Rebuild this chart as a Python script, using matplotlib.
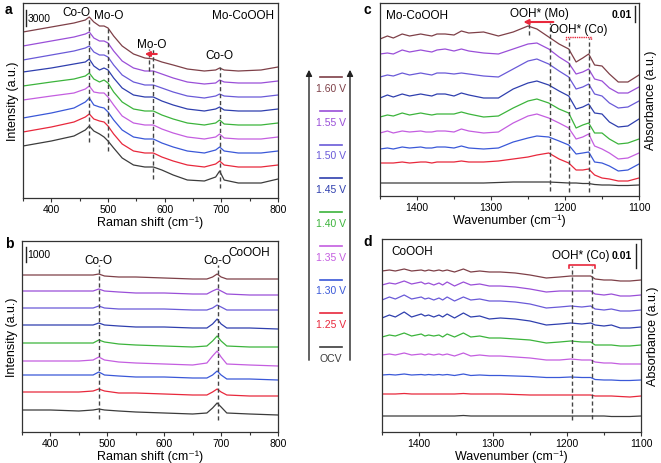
import matplotlib
matplotlib.use("Agg")
import matplotlib.pyplot as plt

plt.rcParams["font.family"] = ["Liberation Sans", "DejaVu Sans"]

# potentials, bottom to top
labels = ["OCV", "1.25 V", "1.30 V", "1.35 V", "1.40 V", "1.45 V", "1.50 V", "1.55 V", "1.60 V"]
colors = ["#3c3c3c", "#e8283c", "#3a58d8", "#c45ee0", "#3cb43c",
          "#2f3fae", "#6a5ad8", "#9a4fd8", "#7e4048"]

# panel a: Raman, Mo-CoOOH (stacked, arbitrary units)
a_x = [350, 400, 440, 460, 467, 475, 485, 493, 500, 510, 525, 545,
       565, 580, 595, 615, 640, 670, 690, 697, 705, 730, 770, 800]
a_y = [
    [52, 57, 62, 68, 72, 67, 64, 61, 57, 50, 40, 33, 31, 31, 28, 23, 18, 17, 21, 27, 18, 15, 15, 19],
    [66, 71, 76, 81, 84, 79, 77, 76, 72, 64, 54, 47, 45, 45, 41, 37, 33, 31, 34, 37, 33, 31, 31, 33],
    [80, 85, 90, 96, 100, 93, 91, 90, 86, 78, 68, 61, 59, 59, 55, 51, 47, 45, 48, 51, 47, 45, 45, 47],
    [98, 102, 105, 109, 112, 106, 105, 105, 101, 93, 82, 75, 73, 73, 69, 65, 61, 59, 61, 64, 60, 59, 59, 61],
    [112, 116, 119, 122, 125, 119, 116, 118, 115, 106, 96, 89, 87, 87, 83, 79, 75, 73, 75, 78, 74, 73, 73, 75],
    [126, 130, 134, 136, 139, 132, 128, 130, 128, 120, 110, 103, 101, 101, 97, 93, 89, 87, 89, 91, 88, 87, 87, 89],
    [138, 143, 147, 150, 152, 146, 143, 143, 141, 133, 123, 116, 113, 113, 110, 106, 102, 100, 102, 104, 102, 101, 101, 103],
    [152, 157, 161, 164, 166, 160, 157, 157, 155, 147, 137, 130, 127, 127, 124, 120, 116, 114, 115, 118, 116, 115, 115, 117],
    [166, 171, 175, 178, 181, 176, 172, 172, 170, 162, 152, 144, 140, 139, 136, 133, 129, 127, 128, 130, 128, 127, 128, 131],
]

# panel b: Raman, CoOOH
b_x = [350, 400, 450, 475, 485, 495, 520, 550, 600, 650, 675, 685, 693, 700, 710, 750, 800]
b_y = [
    [22, 22, 21, 22, 23, 22, 21, 20, 19, 18, 19, 24, 29, 25, 19, 18, 17],
    [40, 40, 40, 41, 43, 41, 39, 39, 38, 37, 37, 40, 43, 40, 37, 36, 36],
    [57, 57, 57, 57, 60, 57, 56, 55, 55, 54, 54, 57, 61, 57, 53, 53, 52],
    [71, 71, 71, 72, 75, 72, 70, 69, 68, 67, 69, 76, 81, 75, 68, 67, 66],
    [89, 89, 89, 89, 92, 90, 88, 87, 86, 85, 86, 91, 96, 91, 86, 85, 85],
    [107, 107, 107, 107, 109, 107, 106, 105, 105, 104, 104, 108, 113, 108, 104, 104, 103],
    [124, 124, 124, 124, 126, 124, 123, 123, 123, 122, 122, 124, 127, 125, 122, 122, 122],
    [141, 141, 141, 141, 143, 141, 140, 139, 139, 138, 138, 141, 143, 141, 138, 137, 137],
    [157, 157, 157, 157, 158, 156, 155, 155, 154, 153, 153, 155, 158, 155, 153, 153, 153],
]

# panel c: ATR-IR, Mo-CoOOH
c_x = [1450, 1440, 1432, 1420, 1410, 1395, 1388, 1380, 1373, 1362, 1350, 1340, 1330, 1310, 1290,
       1270, 1250, 1238, 1222, 1208, 1195, 1185, 1176, 1168, 1160, 1150, 1140, 1128, 1115, 1100]
c_y = [
    [13, 13, 13, 13, 13, 13, 13, 13, 13, 13, 13, 13, 13, 13, 13.5,
     14, 14, 14, 14, 13.5, 13, 13, 12.5, 12.5, 11.5, 11, 11, 10.5, 10.5, 11],
    [33, 33, 33, 34, 33, 34, 34, 33, 34, 34, 34, 35, 34, 34, 35,
     37, 39, 41, 43, 37, 33, 26, 26, 27, 21, 18, 17, 15, 15, 18],
    [47, 48, 47, 49, 48, 49, 48, 48, 49, 49, 48, 50, 48, 47, 48,
     54, 58, 60, 59, 55, 51, 42, 43, 44, 34, 33, 30, 25, 26, 32],
    [63, 65, 63, 65, 64, 65, 64, 64, 65, 65, 64, 67, 65, 63, 64,
     73, 80, 82, 78, 73, 68, 57, 59, 62, 50, 47, 43, 37, 38, 43],
    [79, 81, 80, 83, 81, 83, 82, 81, 82, 82, 82, 84, 82, 79, 80,
     88, 95, 97, 93, 87, 83, 68, 71, 73, 63, 63, 57, 52, 53, 57],
    [98, 101, 99, 102, 100, 102, 101, 100, 102, 102, 100, 103, 101, 98, 98,
     107, 113, 115, 111, 105, 100, 87, 89, 92, 83, 82, 74, 69, 70, 77],
    [119, 121, 120, 123, 121, 123, 122, 121, 123, 123, 122, 123, 122, 120, 119,
     127, 135, 137, 132, 125, 119, 107, 109, 112, 102, 100, 93, 88, 89, 95],
    [142, 143, 142, 146, 144, 146, 145, 144, 146, 147, 145, 147, 145, 143, 142,
     147, 152, 153, 147, 139, 133, 122, 124, 127, 117, 115, 108, 103, 103, 109],
    [157, 160, 158, 162, 160, 162, 161, 160, 162, 162, 161, 165, 163, 164, 160,
     164, 170, 167, 159, 152, 147, 134, 138, 142, 131, 130, 122, 114, 114, 121],
]

# panel d: ATR-IR, CoOOH
d_x = [1450, 1440, 1432, 1420, 1410, 1397, 1392, 1387, 1380, 1373, 1368, 1362, 1352, 1340, 1330, 1318,
       1305, 1290, 1270, 1250, 1228, 1210, 1195, 1180, 1168, 1162, 1150, 1140, 1128, 1115, 1100]
d_y = [
    [16, 16, 16, 16, 16, 16, 16, 16, 16, 16, 16, 16, 16, 16.5, 16, 16,
     16, 16, 16, 16, 16, 16, 16, 16, 16, 16, 16, 15.5, 15.5, 15.5, 16],
    [38, 38, 38, 38.5, 38, 38, 38, 38, 38, 38, 38, 38, 38, 38.5, 38, 38,
     38, 38, 37.5, 37, 37, 37, 37, 37, 37, 36, 36, 36, 35.5, 35, 36],
    [57, 57.5, 57, 58, 57, 57.5, 57, 57.5, 57, 57.5, 57, 57.5, 56.5, 58, 56.5, 57,
     56.5, 56.5, 56, 55.5, 54.5, 54.5, 55, 54.5, 54.5, 52.5, 52, 52, 51.5, 51.5, 52],
    [77, 78, 77, 79, 77, 78, 77, 78, 77, 78, 77, 78, 76, 79, 76, 77,
     76, 76, 75, 74, 72, 72, 73, 72, 72, 70, 69, 69, 68, 68, 68],
    [95, 97, 96, 99, 96, 98, 96, 97, 96, 97, 95, 98, 95, 99, 95, 96,
     94, 94, 93, 92, 89, 90, 91, 90, 90, 87, 87, 87, 86, 86, 87],
    [114, 117, 115, 120, 115, 118, 116, 117, 115, 117, 115, 118, 114, 119, 115, 116,
     113, 114, 113, 111, 107, 108, 109, 108, 109, 107, 106, 107, 104, 104, 105],
    [132, 135, 133, 137, 133, 135, 133, 134, 132, 134, 132, 135, 131, 135, 132, 133,
     131, 131, 130, 128, 124, 125, 126, 125, 126, 123, 122, 123, 121, 121, 122],
    [147, 149, 148, 151, 148, 150, 148, 149, 147, 149, 147, 150, 146, 150, 147, 148,
     146, 146, 145, 143, 140, 141, 141, 141, 141, 138, 137, 138, 136, 136, 137],
    [161, 162, 161, 163, 161, 162, 161, 162, 161, 162, 161, 162, 160, 163, 160, 161,
     160, 160, 159, 157, 154, 155, 156, 156, 156, 153, 152, 152, 151, 151, 152],
]

W, H = 661, 464
fig = plt.figure(figsize=(W / 100, H / 100), dpi=100)

EDGE = "#333333"
DASH = dict(color="#444444", lw=1.0, ls=(0, (3, 2)))
RED = "#e8283c"
FS = 8.5


def px_axes(l, t, r, b):
    return fig.add_axes([l / W, 1 - b / H, (r - l) / W, (b - t) / H])


def style(ax, xlim, ylim, major, xlabel, ylabel, right=False):
    ax.set_xlim(*xlim)
    ax.set_ylim(*ylim)
    step = major[1] - major[0]
    ax.set_xticks(major)
    ax.set_xticks([v + step / 2 for v in major[:-1]] + [major[0] - step / 2], minor=True)
    ax.set_yticks([])
    ax.tick_params(axis="x", which="major", direction="out", length=3, width=0.8,
                   labelsize=7.5, pad=1.5, color=EDGE)
    ax.tick_params(axis="x", which="minor", direction="out", length=2, width=0.8, color=EDGE)
    for s in ax.spines.values():
        s.set_color(EDGE)
        s.set_linewidth(0.9)
    ax.set_xlabel(xlabel, fontsize=9, labelpad=1)
    if right:
        ax.yaxis.set_label_position("right")
        ax.set_ylabel(ylabel, fontsize=9, rotation=90, labelpad=4)
    else:
        ax.set_ylabel(ylabel, fontsize=9, labelpad=3)


def draw(ax, xs, rows):
    for row, c in zip(rows, colors):
        ax.plot(xs, row, color=c, lw=0.9)


RAMAN = "Raman shift (cm\u207b\u00b9)"
WAVE = "Wavenumber (cm\u207b\u00b9)"

# ---- a ----
ax = px_axes(23, 4, 278, 199)
draw(ax, a_x, a_y)
style(ax, (350, 800), (0, 195), [400, 500, 600, 700, 800], RAMAN, "Intensity (a.u.)")
ax.plot([467, 467], [56, 181], **DASH)
ax.plot([500, 500], [47, 171], **DASH)
ax.plot([580, 580], [19, 149], **DASH)
ax.plot([572, 572], [127, 149], **DASH)
ax.plot([697, 697], [10, 131], **DASH)
ax.annotate("", xy=(560, 144), xytext=(591, 144),
            arrowprops=dict(arrowstyle="-|>", color=RED, lw=1.5, mutation_scale=7))
ax.text(445, 186, "Co-O", ha="center", va="center", fontsize=FS)
ax.text(501, 183, "Mo-O", ha="center", va="center", fontsize=FS)
ax.text(577, 154, "Mo-O", ha="center", va="center", fontsize=FS)
ax.text(697, 143, "Co-O", ha="center", va="center", fontsize=FS)
ax.text(739, 183, "Mo-CoOOH", ha="center", va="center", fontsize=FS)
ax.plot([356, 356], [172, 188], color="#222222", lw=1.0)
ax.text(359, 180, "3000", ha="left", va="center", fontsize=7.5)

# ---- b ----
ax = px_axes(22, 242, 278, 433)
draw(ax, b_x, b_y)
style(ax, (350, 800), (0, 191), [400, 500, 600, 700, 800], RAMAN, "Intensity (a.u.)")
ax.plot([485, 485], [13, 167], **DASH)
ax.plot([695, 695], [12, 167], **DASH)
ax.text(484, 172, "Co-O", ha="center", va="center", fontsize=FS)
ax.text(693, 172, "Co-O", ha="center", va="center", fontsize=FS)
ax.text(750, 180, "CoOOH", ha="center", va="center", fontsize=FS)
ax.plot([357, 357], [170, 185], color="#222222", lw=1.0)
ax.text(360, 178, "1000", ha="left", va="center", fontsize=7.5)

# ---- c ----
ax = px_axes(380, 4, 639, 197)
draw(ax, c_x, c_y)
style(ax, (1450, 1100), (0, 193), [1400, 1300, 1200, 1100], WAVE,
      "Absorbance (a.u.)", right=True)
ax.plot([1248, 1248], [161, 174], **DASH)
ax.plot([1220, 1220], [5, 173], **DASH)
ax.plot([1195, 1195], [4, 158], **DASH)
ax.plot([1168, 1168], [4, 158], **DASH)
ax.annotate("", xy=(1260, 174), xytext=(1212, 174),
            arrowprops=dict(arrowstyle="-|>", color=RED, lw=1.5, mutation_scale=7))
ax.plot([1198, 1198, 1165, 1165], [156, 159, 159, 156], color=RED, lw=1.0, ls=(0, (1, 0.6)))
ax.text(1234, 183, "OOH* (Mo)", ha="center", va="center", fontsize=FS)
ax.text(1181, 167, "OOH* (Co)", ha="center", va="center", fontsize=FS)
ax.text(1442, 181, "Mo-CoOOH", ha="left", va="center", fontsize=FS)
ax.plot([1105, 1105], [174, 190], color="#222222", lw=1.0)
ax.text(1109, 182, "0.01", ha="right", va="center", fontsize=7.5, fontweight="bold")

# ---- d ----
ax = px_axes(382, 240, 641, 433)
draw(ax, d_x, d_y)
style(ax, (1450, 1100), (0, 193), [1400, 1300, 1200, 1100], WAVE,
      "Absorbance (a.u.)", right=True)
ax.plot([1193, 1193], [12, 166], **DASH)
ax.plot([1166, 1166], [13, 166], **DASH)
ax.plot([1197, 1197, 1162, 1162], [164, 167, 167, 164], color=RED, lw=1.2)
ax.text(1181, 177, "OOH* (Co)", ha="center", va="center", fontsize=FS)
ax.text(1437, 181, "CoOOH", ha="left", va="center", fontsize=FS)
ax.plot([1107, 1107], [164, 188], color="#222222", lw=1.0)
ax.text(1112, 177, "0.01", ha="right", va="center", fontsize=7.5, fontweight="bold")

# ---- shared potential legend ----
lg = px_axes(295, 60, 365, 370)
lg.set_xlim(295, 365)
lg.set_ylim(370, 60)
lg.axis("off")
for xa in (309, 350):
    lg.annotate("", xy=(xa, 68), xytext=(xa, 364),
                arrowprops=dict(arrowstyle="-|>", color="#222222", lw=1.0, mutation_scale=9))
for i, (lab, c) in enumerate(zip(labels, colors)):
    yl = 348 - 33.75 * i
    lg.plot([320, 342], [yl, yl], color=c, lw=1.2)
    lg.text(331, yl + 11, lab, color=c, ha="center", va="center", fontsize=7.5)

# panel letters
for lx, ly, letter in [(5, 10, "a"), (5, 244, "b"), (363, 10, "c"), (363, 242, "d")]:
    fig.text(lx / W, 1 - ly / H, letter, fontsize=10, fontweight="bold", va="center")

fig.savefig("out.png", dpi=100)
